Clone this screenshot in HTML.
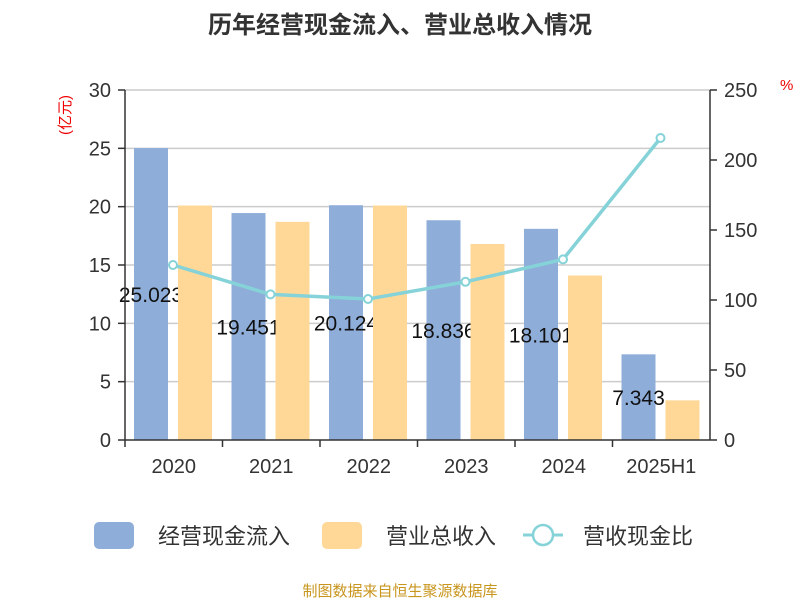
<!DOCTYPE html>
<html><head><meta charset="utf-8">
<style>
body{margin:0;background:#fff;}
svg text{font-family:"Liberation Sans","Noto Sans CJK SC",sans-serif;}
</style></head>
<body>
<svg id="c" width="800" height="600" xmlns="http://www.w3.org/2000/svg">
<text x="400" y="33" text-anchor="middle" font-size="24" font-weight="bold" fill="#333">历年经营现金流入、营业总收入情况</text>
<text x="0" y="0" transform="translate(70,115) rotate(-90)" text-anchor="middle" font-size="15" fill="#e00">(亿元)</text>
<text x="780" y="90" font-size="15" fill="#e00">%</text>
<g id="grid"></g><g id="bars1"></g><g id="labels"></g><g id="bars2"></g><g id="line"></g><g id="axes"></g>
<g>
<rect x="94" y="522" width="40" height="27" rx="5" fill="#8eadd9"/>
<text x="158" y="544" font-size="22" fill="#333">经营现金流入</text>
<rect x="322" y="522" width="40" height="27" rx="5" fill="#ffd898"/>
<text x="386" y="544" font-size="22" fill="#333">营业总收入</text>
<line x1="523" y1="535" x2="563" y2="535" stroke="#85d3d8" stroke-width="3"/>
<circle cx="543" cy="535" r="10" fill="#fff" stroke="#85d3d8" stroke-width="2.5"/>
<text x="583" y="544" font-size="22" fill="#333">营收现金比</text>
</g>
<text x="400" y="596" text-anchor="middle" font-size="15" fill="#c8961e">制图数据来自恒生聚源数据库</text>
</svg>
<script>
const categories=["2020","2021","2022","2023","2024","2025H1"];
const cashInflow=[25.023,19.451,20.124,18.836,18.101,7.343];
const revenue=[20.1,18.7,20.1,16.8,14.1,3.4];
const ratio=[125,104,100.7,113,129,215.7];
const leftTicks=[0,5,10,15,20,25,30];
const rightTicks=[0,50,100,150,200,250];
const NS="http://www.w3.org/2000/svg";
const X0=125,X1=710,Y0=440,Y1=90;
const slot=(X1-X0)/categories.length;
const yL=v=>Y0-(v/30)*(Y0-Y1);
const yR=v=>Y0-(v/250)*(Y0-Y1);
function mk(t,a,p){const e=document.createElementNS(NS,t);for(const k in a)e.setAttribute(k,a[k]);p.appendChild(e);return e;}
const g=id=>document.getElementById(id);
leftTicks.forEach(v=>{
 if(v>0){const l=mk('line',{x1:X0,x2:X1,y1:yL(v),y2:yL(v),stroke:'#ccc','stroke-width':1.5},g('grid'));
 
 }
 const t=mk('text',{x:X0-14,y:yL(v)+7,'text-anchor':'end','font-size':20,fill:'#333'},g('axes'));t.textContent=v;
 
 
 mk('line',{x1:X0-7,x2:X0,y1:yL(v),y2:yL(v),stroke:'#333','stroke-width':1.5},g('axes'));
});
rightTicks.forEach(v=>{
 const t=mk('text',{x:X1+14,y:yR(v)+7,'font-size':20,fill:'#333'},g('axes'));t.textContent=v;
 
 
 mk('line',{x1:X1,x2:X1+7,y1:yR(v),y2:yR(v),stroke:'#333','stroke-width':1.5},g('axes'));
});
mk('line',{x1:X0,x2:X0,y1:Y1,y2:Y0,stroke:'#333','stroke-width':1.5},g('axes'));
mk('line',{x1:X1,x2:X1,y1:Y1,y2:Y0,stroke:'#333','stroke-width':1.5},g('axes'));
mk('line',{x1:X0,x2:X1,y1:Y0,y2:Y0,stroke:'#333','stroke-width':1.5},g('axes'));
const pts=[];
categories.forEach((c,i)=>{
 const sx=X0+i*slot;
 mk('line',{x1:sx,x2:sx,y1:Y0,y2:Y0+7,stroke:'#333','stroke-width':1.5},g('axes'));
 const t=mk('text',{x:sx+slot/2,y:Y0+33,'text-anchor':'middle','font-size':20,fill:'#333'},g('axes'));t.textContent=c;
 
 
 const b=mk('rect',{x:sx+9,y:yL(cashInflow[i]),width:34,height:Y0-yL(cashInflow[i]),fill:'#8eadd9'},g('bars1'));
 
 
 const lb=mk('text',{x:sx+26,y:(yL(cashInflow[i])+Y0)/2+8,'text-anchor':'middle','font-size':21,fill:'#111'},g('labels'));
 lb.textContent=cashInflow[i].toFixed(3);
 
 
 const b2=mk('rect',{x:sx+53,y:yL(revenue[i]),width:34,height:Y0-yL(revenue[i]),fill:'#ffd898'},g('bars2'));
 
 
 pts.push([sx+48,yR(ratio[i])]);
});
const pl=mk('polyline',{points:pts.map(p=>p.join(',')).join(' '),fill:'none',stroke:'#85d3d8','stroke-width':3.5},g('line'));


pts.forEach((p,i)=>{
 const c=mk('circle',{cx:p[0],cy:p[1],r:4,fill:'#fff',stroke:'#85d3d8','stroke-width':2},g('line'));
 
 
});
</script>
</body></html>
